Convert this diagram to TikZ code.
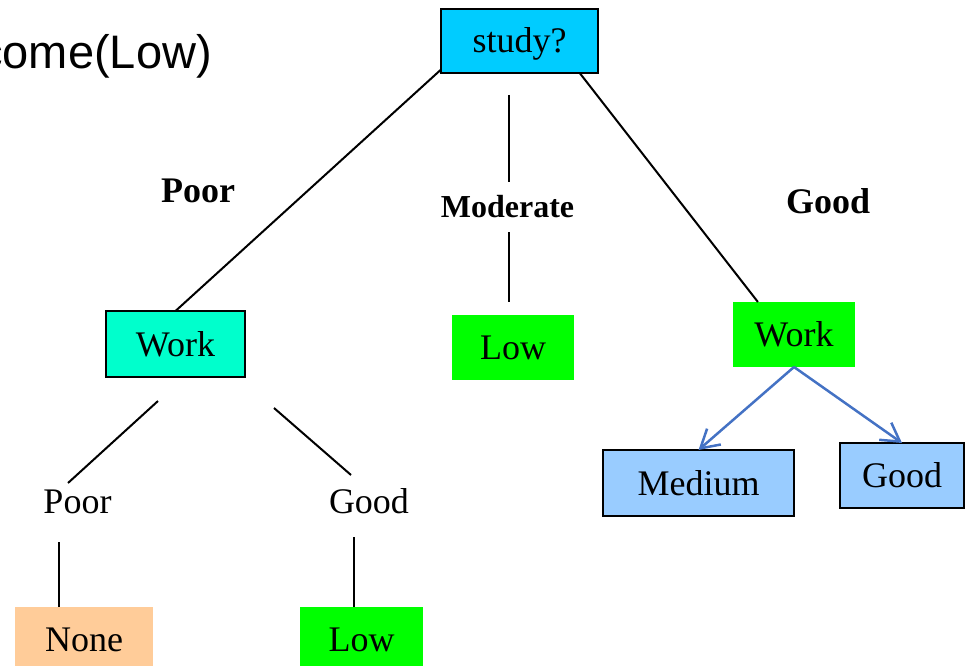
\documentclass[tikz,border=0pt]{standalone}
\usepackage{fontspec}
\setmainfont{Liberation Serif}
\newfontfamily\arialfont{Liberation Sans}
\usetikzlibrary{arrows.meta,calc}
\definecolor{cstudy}{HTML}{00CCFF}
\definecolor{cworkl}{HTML}{00FFCC}
\definecolor{cgreen}{HTML}{00FF00}
\definecolor{cblue}{HTML}{99CCFF}
\definecolor{cpeach}{HTML}{FFCC99}
\definecolor{carrow}{HTML}{4472C4}
\tikzset{
  box/.style={rectangle, inner sep=0pt, outer sep=0pt, text height=24pt, text depth=0pt,
    font=\fontsize{36}{40}\selectfont},
  bbox/.style={box, draw=black, line width=2.5pt},
  lab/.style={inner sep=0pt, anchor=base, font=\fontsize{36}{40}\selectfont},
  blab/.style={inner sep=0pt, anchor=base, font=\fontsize{36}{40}\selectfont\bfseries},
  edge/.style={line width=2pt, black},
  barrow/.style={line width=2.5pt, carrow, -{Straight Barb[length=18pt,width=21pt,line width=2.5pt]}},
}
\begin{document}
\begin{tikzpicture}[x=1pt,y=-1pt]
\useasboundingbox (0,0) rectangle (971,666);
% title fragment
\node[inner sep=0pt, anchor=base east, font=\arialfont\fontsize{47}{50}\selectfont] (title) at (212,69) {come(Low)};
% boxes
\node[bbox, fill=cstudy, minimum width=157pt, minimum height=64pt] (study) at (519.5,41) {study?};
\node[bbox, fill=cworkl, minimum width=139pt, minimum height=66pt] (workL) at (175.5,344) {Work};
\node[box, fill=cgreen, minimum width=122pt, minimum height=65pt] (lowM) at (513,347.5) {Low};
\node[box, fill=cgreen, minimum width=122pt, minimum height=65pt] (workR) at (794,334.5) {Work};
\node[bbox, fill=cblue, minimum width=191pt, minimum height=66pt] (medium) at (698.5,483) {Medium};
\node[bbox, fill=cblue, minimum width=124pt, minimum height=65pt] (goodB) at (902,475.5) {Good};
\node[box, fill=cpeach, minimum width=138pt, minimum height=65pt] (none) at (84,639.5) {None};
\node[box, fill=cgreen, minimum width=123pt, minimum height=65pt] (lowB) at (361.5,639.5) {Low};
% branch labels
\node[blab] (lpoor) at (198,202) {Poor};
\node[blab, font=\fontsize{32}{36}\selectfont\bfseries] (lmod) at (507.5,217) {Moderate};
\node[blab] (lgood) at (828,213) {Good};
\node[lab] (spoor) at (77.5,513) {Poor};
\node[lab] (sgood) at (369,513) {Good};
% connector end points
\coordinate (m1) at (509,95);
\coordinate (m2) at (509,182);
\coordinate (m3) at (509,232);
\coordinate (m4) at (509,302);
\coordinate (p1) at (158,401);
\coordinate (p2) at (68,483);
\coordinate (g1) at (274,408);
\coordinate (g2) at (351,475);
\coordinate (n1) at (59,542);
\coordinate (l1) at (354,537);
% connectors
\draw[edge] (study.200) -- (workL.north);
\draw[edge] (study.-28) -- (workR.138);
\draw[edge] (m1) -- (m2);
\draw[edge] (m3) -- (m4);
\draw[edge] (p1) -- (p2);
\draw[edge] (g1) -- (g2);
\draw[edge] (n1) -- (n1 |- none.north);
\draw[edge] (l1) -- (l1 |- lowB.north);
\draw[barrow] (workR.south) -- (medium.north);
\draw[barrow] (workR.south) -- (goodB.north);
\end{tikzpicture}
\end{document}
